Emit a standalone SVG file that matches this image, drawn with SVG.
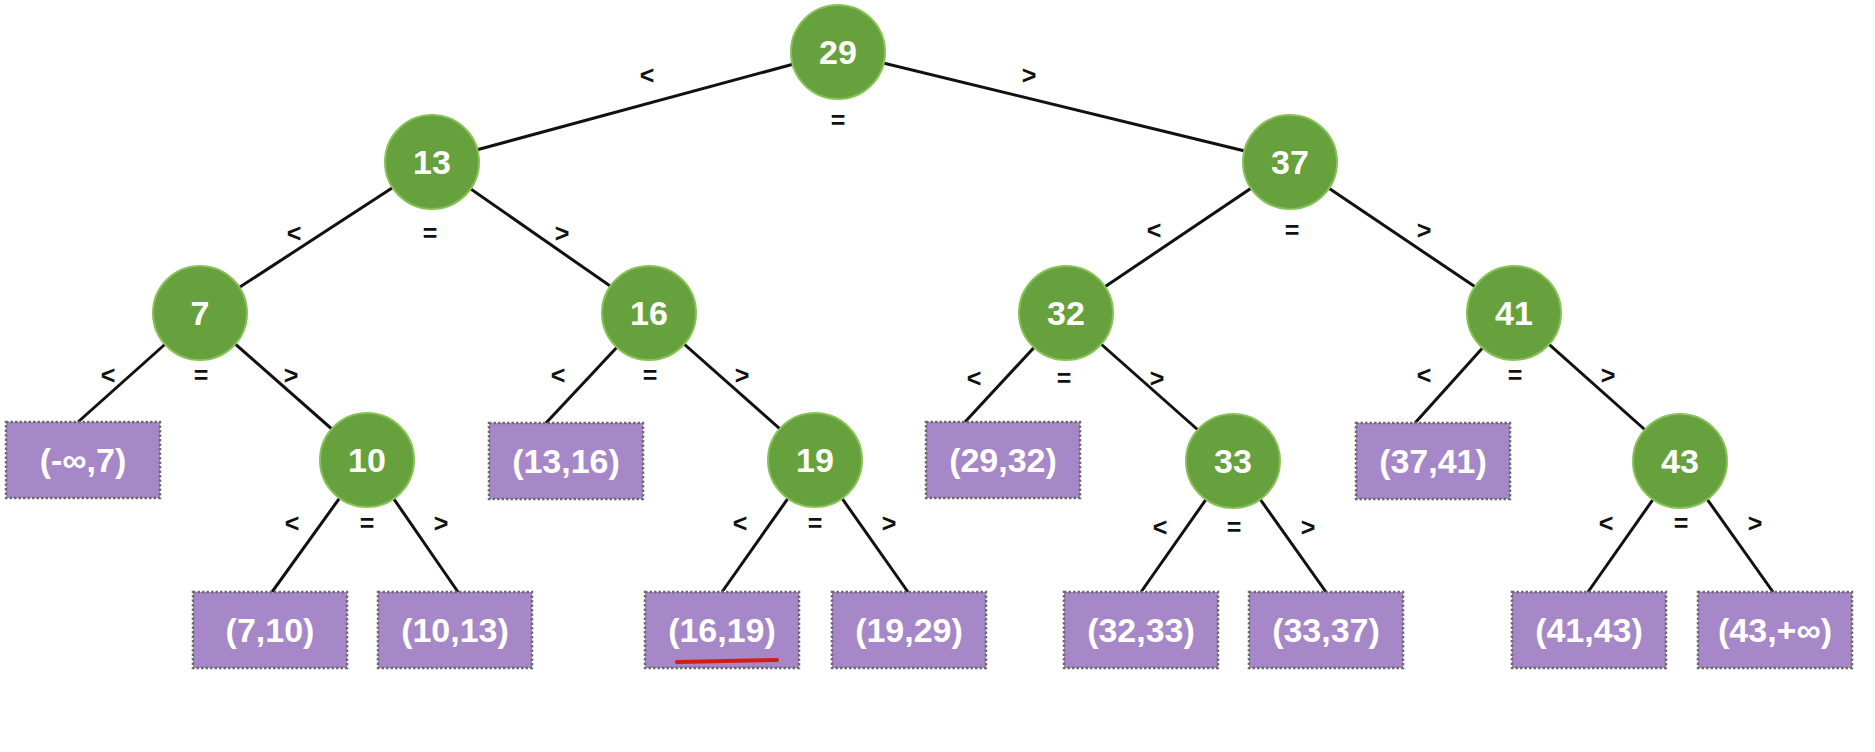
<svg xmlns="http://www.w3.org/2000/svg" width="1875" height="752" viewBox="0 0 1875 752">
<style>
.edge{stroke:#111;stroke-width:3;fill:none}
.inner circle{fill:#67a13e;stroke:#86c256;stroke-width:2}
.inner text{fill:#fff;font-family:"Liberation Sans",Arial,sans-serif;font-weight:bold;font-size:34px;text-anchor:middle;dominant-baseline:central}
.leaf rect{fill:#a687c8;stroke:#6b6b6b;stroke-width:2.5;stroke-dasharray:2.5 2}
.leaf text{fill:#fff;font-family:"Liberation Sans",Arial,sans-serif;font-weight:bold;font-size:34px;text-anchor:middle;dominant-baseline:central}
.lbl{fill:#111;font-family:"Liberation Sans",Arial,sans-serif;font-weight:bold;font-size:25px;text-anchor:middle;dominant-baseline:central}
</style>
<rect width="1875" height="752" fill="#fff"/>
<g id="connectors">
<line class="edge" x1="838" y1="52" x2="432" y2="162"/>
<line class="edge" x1="838" y1="52" x2="1290" y2="162"/>
<line class="edge" x1="432" y1="162" x2="200" y2="313"/>
<line class="edge" x1="432" y1="162" x2="649" y2="313"/>
<line class="edge" x1="1290" y1="162" x2="1066" y2="313"/>
<line class="edge" x1="1290" y1="162" x2="1514" y2="313"/>
<line class="edge" x1="200" y1="313" x2="78" y2="422"/>
<line class="edge" x1="200" y1="313" x2="367" y2="460"/>
<line class="edge" x1="649" y1="313" x2="546" y2="423"/>
<line class="edge" x1="649" y1="313" x2="815" y2="460"/>
<line class="edge" x1="1066" y1="313" x2="965" y2="422"/>
<line class="edge" x1="1066" y1="313" x2="1233" y2="461"/>
<line class="edge" x1="1514" y1="313" x2="1415" y2="423"/>
<line class="edge" x1="1514" y1="313" x2="1680" y2="461"/>
<line class="edge" x1="367" y1="460" x2="272" y2="592"/>
<line class="edge" x1="367" y1="460" x2="458" y2="592"/>
<line class="edge" x1="815" y1="460" x2="722" y2="592"/>
<line class="edge" x1="815" y1="460" x2="908" y2="592"/>
<line class="edge" x1="1233" y1="461" x2="1141" y2="592"/>
<line class="edge" x1="1233" y1="461" x2="1326" y2="592"/>
<line class="edge" x1="1680" y1="461" x2="1588" y2="592"/>
<line class="edge" x1="1680" y1="461" x2="1773" y2="592"/>
</g>
<g id="edge-labels">
<text class="lbl" x="647" y="75">&lt;</text><text class="lbl" x="838" y="120">=</text><text class="lbl" x="1029" y="75">&gt;</text>
<text class="lbl" x="294" y="233">&lt;</text><text class="lbl" x="430" y="233">=</text><text class="lbl" x="562" y="233">&gt;</text>
<text class="lbl" x="1154" y="230">&lt;</text><text class="lbl" x="1292" y="230">=</text><text class="lbl" x="1424" y="230">&gt;</text>
<text class="lbl" x="108" y="375">&lt;</text><text class="lbl" x="201" y="375">=</text><text class="lbl" x="291" y="375">&gt;</text>
<text class="lbl" x="558" y="375">&lt;</text><text class="lbl" x="650" y="375">=</text><text class="lbl" x="742" y="375">&gt;</text>
<text class="lbl" x="974" y="378">&lt;</text><text class="lbl" x="1064" y="378">=</text><text class="lbl" x="1157" y="378">&gt;</text>
<text class="lbl" x="1424" y="375">&lt;</text><text class="lbl" x="1515" y="375">=</text><text class="lbl" x="1608" y="375">&gt;</text>
<text class="lbl" x="292" y="523">&lt;</text><text class="lbl" x="367" y="523">=</text><text class="lbl" x="441" y="523">&gt;</text>
<text class="lbl" x="740" y="523">&lt;</text><text class="lbl" x="815" y="523">=</text><text class="lbl" x="889" y="523">&gt;</text>
<text class="lbl" x="1160" y="527">&lt;</text><text class="lbl" x="1234" y="527">=</text><text class="lbl" x="1308" y="527">&gt;</text>
<text class="lbl" x="1606" y="523">&lt;</text><text class="lbl" x="1681" y="523">=</text><text class="lbl" x="1755" y="523">&gt;</text>
</g>
<g id="n29" class="inner"><circle cx="838" cy="52" r="47"/><text x="838" y="52">29</text></g>
<g id="n13" class="inner"><circle cx="432" cy="162" r="47"/><text x="432" y="162">13</text></g>
<g id="n37" class="inner"><circle cx="1290" cy="162" r="47"/><text x="1290" y="162">37</text></g>
<g id="n7" class="inner"><circle cx="200" cy="313" r="47"/><text x="200" y="313">7</text></g>
<g id="n16" class="inner"><circle cx="649" cy="313" r="47"/><text x="649" y="313">16</text></g>
<g id="n32" class="inner"><circle cx="1066" cy="313" r="47"/><text x="1066" y="313">32</text></g>
<g id="n41" class="inner"><circle cx="1514" cy="313" r="47"/><text x="1514" y="313">41</text></g>
<g id="n10" class="inner"><circle cx="367" cy="460" r="47"/><text x="367" y="460">10</text></g>
<g id="n19" class="inner"><circle cx="815" cy="460" r="47"/><text x="815" y="460">19</text></g>
<g id="n33" class="inner"><circle cx="1233" cy="461" r="47"/><text x="1233" y="461">33</text></g>
<g id="n43" class="inner"><circle cx="1680" cy="461" r="47"/><text x="1680" y="461">43</text></g>
<g id="l-inf-7" class="leaf"><rect x="6" y="422" width="154" height="76"/><text x="83" y="460">(-∞,7)</text></g>
<g id="l13-16" class="leaf"><rect x="489" y="423" width="154" height="76"/><text x="566" y="461">(13,16)</text></g>
<g id="l29-32" class="leaf"><rect x="926" y="422" width="154" height="76"/><text x="1003" y="460">(29,32)</text></g>
<g id="l37-41" class="leaf"><rect x="1356" y="423" width="154" height="76"/><text x="1433" y="461">(37,41)</text></g>
<g id="l7-10" class="leaf"><rect x="193" y="592" width="154" height="76"/><text x="270" y="630">(7,10)</text></g>
<g id="l10-13" class="leaf"><rect x="378" y="592" width="154" height="76"/><text x="455" y="630">(10,13)</text></g>
<g id="l16-19" class="leaf"><rect x="645" y="592" width="154" height="76"/><text x="722" y="630">(16,19)</text><path d="M677 662 L777 660" stroke="#d21c16" stroke-width="4" stroke-linecap="round" fill="none"/></g>
<g id="l19-29" class="leaf"><rect x="832" y="592" width="154" height="76"/><text x="909" y="630">(19,29)</text></g>
<g id="l32-33" class="leaf"><rect x="1064" y="592" width="154" height="76"/><text x="1141" y="630">(32,33)</text></g>
<g id="l33-37" class="leaf"><rect x="1249" y="592" width="154" height="76"/><text x="1326" y="630">(33,37)</text></g>
<g id="l41-43" class="leaf"><rect x="1512" y="592" width="154" height="76"/><text x="1589" y="630">(41,43)</text></g>
<g id="l43-inf" class="leaf"><rect x="1698" y="592" width="154" height="76"/><text x="1775" y="630">(43,+∞)</text></g>
</svg>
